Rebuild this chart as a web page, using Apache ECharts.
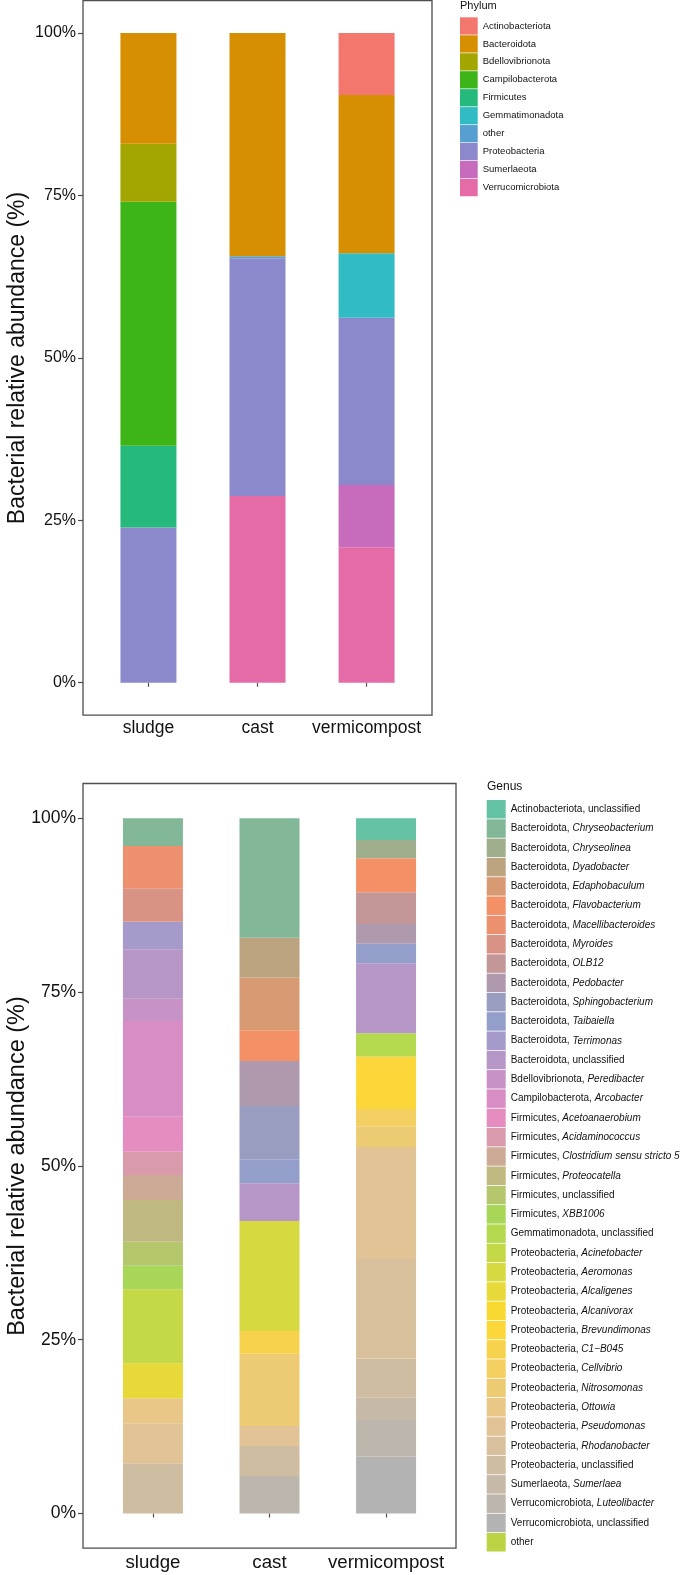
<!DOCTYPE html>
<html>
<head>
<meta charset="utf-8">
<script src="https://cdn.jsdelivr.net/npm/echarts@6/dist/echarts.min.js"></script>
<style>
  html, body { margin: 0; padding: 0; background: #fff; }
  #main { width: 682px; height: 1575px; }
</style>
</head>
<body>
<div id="main"></div>
<script>
var samples = ['sludge', 'cast', 'vermicompost'];

// phylum level (legend order, top of bar first)
var phylumNames = ['Actinobacteriota', 'Bacteroidota', 'Bdellovibrionota', 'Campilobacterota', 'Firmicutes',
  'Gemmatimonadota', 'other', 'Proteobacteria', 'Sumerlaeota', 'Verrucomicrobiota'];
var phylumSludge = [0, 0.1704, 0.0893, 0.3755, 0.1258, 0, 0, 0.239, 0, 0];
var phylumCast = [0, 0.3436, 0, 0, 0, 0, 0.003, 0.366, 0, 0.2874];
var phylumVermi = [0.0954, 0.2437, 0, 0, 0, 0.0991, 0, 0.2575, 0.0959, 0.2084];

// genus level
var genusNames = ['Actinobacteriota, unclassified', 'Bacteroidota, Chryseobacterium', 'Bacteroidota, Chryseolinea',
  'Bacteroidota, Dyadobacter', 'Bacteroidota, Edaphobaculum', 'Bacteroidota, Flavobacterium',
  'Bacteroidota, Macellibacteroides', 'Bacteroidota, Myroides', 'Bacteroidota, OLB12', 'Bacteroidota, Pedobacter',
  'Bacteroidota, Sphingobacterium', 'Bacteroidota, Taibaiella', 'Bacteroidota, Terrimonas',
  'Bacteroidota, unclassified', 'Bdellovibrionota, Peredibacter', 'Campilobacterota, Arcobacter',
  'Firmicutes, Acetoanaerobium', 'Firmicutes, Acidaminococcus', 'Firmicutes, Clostridium sensu stricto 5',
  'Firmicutes, Proteocatella', 'Firmicutes, unclassified', 'Firmicutes, XBB1006', 'Gemmatimonadota, unclassified',
  'Proteobacteria, Acinetobacter', 'Proteobacteria, Aeromonas', 'Proteobacteria, Alcaligenes',
  'Proteobacteria, Alcanivorax', 'Proteobacteria, Brevundimonas', 'Proteobacteria, C1-B045',
  'Proteobacteria, Cellvibrio', 'Proteobacteria, Nitrosomonas', 'Proteobacteria, Ottowia',
  'Proteobacteria, Pseudomonas', 'Proteobacteria, Rhodanobacter', 'Proteobacteria, unclassified',
  'Sumerlaeota, Sumerlaea', 'Verrucomicrobiota, Luteolibacter', 'Verrucomicrobiota, unclassified', 'other'];
var genusSludge = [0, 0.0407, 0, 0, 0, 0, 0.0608, 0.048, 0, 0, 0, 0, 0.0397, 0.0711, 0.0321, 0.1377,
  0.0503, 0.0335, 0.036, 0.06, 0.0345, 0.034, 0, 0.1064, 0, 0.0503, 0, 0, 0, 0, 0, 0.036,
  0.0575, 0, 0.0722, 0, 0, 0, 0];
var genusCast = [0, 0.1726, 0, 0.0575, 0.0757, 0.0442, 0, 0, 0, 0.0647, 0.0767, 0.0345, 0, 0.0542, 0, 0,
  0, 0, 0, 0, 0, 0, 0, 0, 0.1582, 0, 0, 0, 0.0327, 0, 0.104, 0,
  0.0288, 0, 0.0432, 0, 0.0539, 0, 0];
var genusVermi = [0.032, 0, 0.0263, 0, 0, 0.0489, 0, 0, 0.0455, 0.0283, 0, 0.0282, 0, 0.1006, 0, 0,
  0, 0, 0, 0, 0, 0, 0.0336, 0, 0, 0, 0, 0.0756, 0, 0.025, 0.0296, 0,
  0.161, 0.143, 0.0565, 0.032, 0.0526, 0.082, 0];

// colours
var phylumColors = ['#f4776d', '#d58f00', '#a3a500', '#3db519', '#25ba7b', '#30bcc2', '#579fd0', '#8b89cb', '#c76bbd', '#e56ba6'];
var set2 = ['#66c2a5', '#fc8d62', '#8da0cb', '#e78ac3', '#a6d854', '#ffd92f', '#e5c494', '#b3b3b3'];
var otherGenusColor = '#bcd444';

function ramp(cols, n) {
  var rgb = cols.map(function(c) {
    return [parseInt(c.substr(1, 2), 16), parseInt(c.substr(3, 2), 16), parseInt(c.substr(5, 2), 16)];
  });
  var out = [];
  for (var i = 0; i < n; i++) {
    var s = n === 1 ? 0 : i * (cols.length - 1) / (n - 1);
    var k = Math.min(Math.floor(s), cols.length - 2);
    var f = s - k;
    var c = [0, 1, 2].map(function(j) {
      var v = Math.round(rgb[k][j] + (rgb[k + 1][j] - rgb[k][j]) * f);
      return ('0' + v.toString(16)).slice(-2);
    });
    out.push('#' + c.join(''));
  }
  return out;
}
var genusColors = ramp(set2, genusNames.length - 1).concat([otherGenusColor]);

var font = 'Liberation Sans, Arial, Helvetica, sans-serif';
var frameColor = '#4d4d4d';

// panel frames (ggplot expands the axes, the frame sits outside the 0-100% range)
var frames = [
  { x: 83, y: 0.5, w: 349, h: 714.7 },
  { x: 83, y: 783.5, w: 373, h: 764.7 }
];

function buildSeries(names, cols, sludge, cast, vermi, gi, width, suffix) {
  var out = [];
  // ECharts stacks the first series at the bottom, ggplot puts the first level on top
  for (var i = names.length - 1; i >= 0; i--) {
    out.push({
      type: 'bar',
      name: names[i] + suffix,
      xAxisIndex: gi,
      yAxisIndex: gi,
      stack: 's' + gi,
      barWidth: width,
      itemStyle: { color: cols[i] },
      emphasis: { disabled: true },
      data: [sludge[i], cast[i], vermi[i]]
    });
  }
  return out;
}

function xAxisCfg(gi, size, offset, margin) {
  return {
    type: 'category', gridIndex: gi, data: samples, boundaryGap: true, offset: offset,
    axisLine: { show: false },
    splitLine: { show: false },
    axisTick: { show: true, interval: 0, length: 4, alignWithLabel: true, lineStyle: { color: frameColor, width: 1.2 } },
    axisLabel: { interval: 0, hideOverlap: false, margin: margin, color: '#111', fontSize: size, fontFamily: font }
  };
}

function yAxisCfg(gi, size, offset) {
  return {
    type: 'value', gridIndex: gi, min: 0, max: 1, interval: 0.25, offset: offset,
    axisLine: { show: false },
    splitLine: { show: false },
    axisTick: { show: true, length: 5, lineStyle: { color: frameColor, width: 1.2 } },
    axisLabel: {
      margin: 7, color: '#111', fontSize: size, fontFamily: font,
      formatter: function(v) { return Math.round(v * 100) + '%'; }
    }
  };
}

function genusLabel(name) {
  var n = name.trim().replace('-', '\u2212');
  var p = n.split(', ');
  if (p.length < 2) return '{n|' + n + '}';
  return '{n|' + p[0] + ', }' + (p[1] === 'unclassified' ? '{n|unclassified}' : '{i|' + p[1] + '}');
}

var chart = echarts.init(document.getElementById('main'), null, { renderer: 'canvas' });

var genusSuffix = ' ';
var option = {
  animation: false,
  backgroundColor: '#fff',
  title: [
    { text: 'Phylum', left: 460, top: 0, padding: 0, textStyle: { fontSize: 11, fontWeight: 'normal', color: '#111', fontFamily: font } },
    { text: 'Genus', left: 487, top: 781, padding: 0, textStyle: { fontSize: 12, fontWeight: 'normal', color: '#111', fontFamily: font } }
  ],
  grid: [
    // category bands: 3 units inside a 3.2-unit wide frame
    { left: 83 + 349 * 0.1 / 3.2, width: 349 * 3 / 3.2, top: 33, height: 649.7 },
    { left: 83 + 373 * 0.1 / 3.2, width: 373 * 3 / 3.2, top: 818.3, height: 695.2 }
  ],
  xAxis: [xAxisCfg(0, 17.5, 32.5, 4), xAxisCfg(1, 18.7, 35, 5)],
  yAxis: [yAxisCfg(0, 16, 349 * 0.1 / 3.2), yAxisCfg(1, 17.5, 373 * 0.1 / 3.2)],
  legend: [
    {
      orient: 'vertical', left: 460, top: 17.3, padding: 0,
      itemWidth: 17.7, itemHeight: 17.3, itemGap: 0.66, icon: 'rect',
      selectedMode: false,
      data: phylumNames,
      textStyle: { fontSize: 9.5, color: '#111', fontFamily: font }
    },
    {
      orient: 'vertical', left: 486.7, top: 800, padding: 0,
      itemWidth: 19, itemHeight: 18.5, itemGap: 0.79, icon: 'rect',
      selectedMode: false,
      data: genusNames.map(function(n) { return n + genusSuffix; }),
      formatter: genusLabel,
      textStyle: {
        fontSize: 10, color: '#111', fontFamily: font,
        rich: {
          n: { fontSize: 10, color: '#111', fontFamily: font },
          i: { fontSize: 10, color: '#111', fontFamily: font, fontStyle: 'italic' }
        }
      }
    }
  ],
  graphic: frames.map(function(f) {
    return {
      type: 'rect', z: 10, silent: true,
      shape: { x: f.x, y: f.y, width: f.w, height: f.h },
      style: { fill: null, stroke: frameColor, lineWidth: 1.3 }
    };
  }).concat([
    {
      type: 'text', x: 18, y: 358, rotation: Math.PI / 2,
      style: { text: 'Bacterial relative abundance (%)', align: 'center', verticalAlign: 'middle', fontSize: 23, fontFamily: font, fill: '#111' }
    },
    {
      type: 'text', x: 18, y: 1166, rotation: Math.PI / 2,
      style: { text: 'Bacterial relative abundance (%)', align: 'center', verticalAlign: 'middle', fontSize: 23.5, fontFamily: font, fill: '#111' }
    }
  ]),
  series: buildSeries(phylumNames, phylumColors, phylumSludge, phylumCast, phylumVermi, 0, 56, '')
    .concat(buildSeries(genusNames, genusColors, genusSludge, genusCast, genusVermi, 1, 60, genusSuffix))
};

chart.setOption(option);
</script>
</body>
</html>
